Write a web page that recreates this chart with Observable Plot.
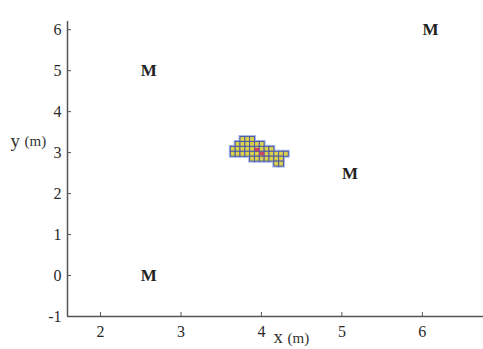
<!DOCTYPE html>
<html><head><meta charset="utf-8">
<script src="https://cdn.jsdelivr.net/npm/d3@7"></script>
<script src="https://cdn.jsdelivr.net/npm/@observablehq/plot@0.6"></script>
<style>body{margin:0;background:#fff} svg text{font-family:"Liberation Serif","Times New Roman",serif !important;}</style>
</head><body><div id="chart"></div>
<script>
// Anchor ("M") positions
const anchorX = [2.6, 6.1, 5.1, 2.6];
const anchorY = [5, 6, 2.5, 0];
const anchorLabel = ["M", "M", "M", "M"];
// Grid cells of the estimated region (left x, bottom y)
const cellW = 0.06, cellH = 0.12;
const rowBottoms = [3.26, 3.14, 3.02, 2.90, 2.78, 2.66];
const rowCellLefts = [
  [3.74, 3.80, 3.86],
  [3.68, 3.74, 3.80, 3.86, 3.92, 3.98],
  [3.62, 3.68, 3.74, 3.80, 3.86, 3.92, 3.98, 4.04, 4.10],
  [3.62, 3.68, 3.74, 3.80, 3.86, 3.92, 3.98, 4.04, 4.10, 4.16, 4.22, 4.28],
  [3.86, 3.92, 3.98, 4.04, 4.10, 4.16, 4.22],
  [4.16, 4.22]
];
const redX = [3.92, 3.98];
const redY = [3.02, 2.92];
const xTicks = [2, 3, 4, 5, 6];
const yTicks = [-1, 0, 1, 2, 3, 4, 5, 6];

const cells = [];
rowBottoms.forEach((yb, i) => rowCellLefts[i].forEach(xl => cells.push({x1: xl, x2: xl + cellW, y1: yb, y2: yb + cellH})));
const reds = redX.map((x, i) => ({x1: x, x2: x + cellW, y1: redY[i], y2: redY[i] + cellH * 0.7}));
const anchors = anchorX.map((x, i) => ({x, y: anchorY[i], t: anchorLabel[i]}));

const serif = "'Liberation Serif', 'Times New Roman', serif";
const chart = Plot.plot({
  width: 483, height: 349,
  marginLeft: 67, marginRight: 0, marginTop: 21, marginBottom: 33,
  style: {fontFamily: serif, fontSize: "16px", color: "#2a2a2a", background: "#fff"},
  x: {domain: [1.59, 6.76]},
  y: {domain: [-1, 6.2]},
  marks: [
    Plot.rect(cells, {x1: "x1", x2: "x2", y1: "y1", y2: "y2", fill: "none", stroke: "#a8b6ea", strokeWidth: 3}),
    Plot.rect(cells, {x1: "x1", x2: "x2", y1: "y1", y2: "y2", fill: "#ddd24a", stroke: "#4a5aa8", strokeWidth: 1}),
    Plot.rect(reds, {x1: "x1", x2: "x2", y1: "y1", y2: "y2", fill: "#c8306a", fillOpacity: 0.85}),
    Plot.text(anchors, {x: "x", y: "y", text: "t", fontSize: 17, fontWeight: "bold", fill: "#222"}),
    Plot.axisX({ticks: xTicks, tickSize: 0, tickPadding: 9, label: null, fontSize: 16, tickFormat: d => d}),
    Plot.axisX({ticks: xTicks, tickSize: -4, tickFormat: () => "", label: null, stroke: "#555"}),
    Plot.axisY({ticks: yTicks, tickSize: 0, tickPadding: 6, label: null, fontSize: 16, tickFormat: d => d}),
    Plot.axisY({ticks: yTicks, tickSize: -4, tickFormat: () => "", label: null, stroke: "#555"}),
    Plot.ruleX([1.59], {stroke: "#555", strokeWidth: 1.5}),
    Plot.ruleY([-1], {stroke: "#555", strokeWidth: 1.5}),
    Plot.text(["y"], {frameAnchor: "left", dx: -57, dy: -28, textAnchor: "start", fontSize: 19, fill: "#333"}),
    Plot.text(["(m)"], {frameAnchor: "left", dx: -43, dy: -28, textAnchor: "start", fontSize: 15, fill: "#333"}),
    Plot.text(["x"], {frameAnchor: "bottom", dx: -2, dy: 26, textAnchor: "start", fontSize: 19, fill: "#333"}),
    Plot.text(["(m)"], {frameAnchor: "bottom", dx: 12, dy: 26, textAnchor: "start", fontSize: 15, fill: "#333"})
  ]
});
document.getElementById("chart").appendChild(chart);
</script></body></html>
